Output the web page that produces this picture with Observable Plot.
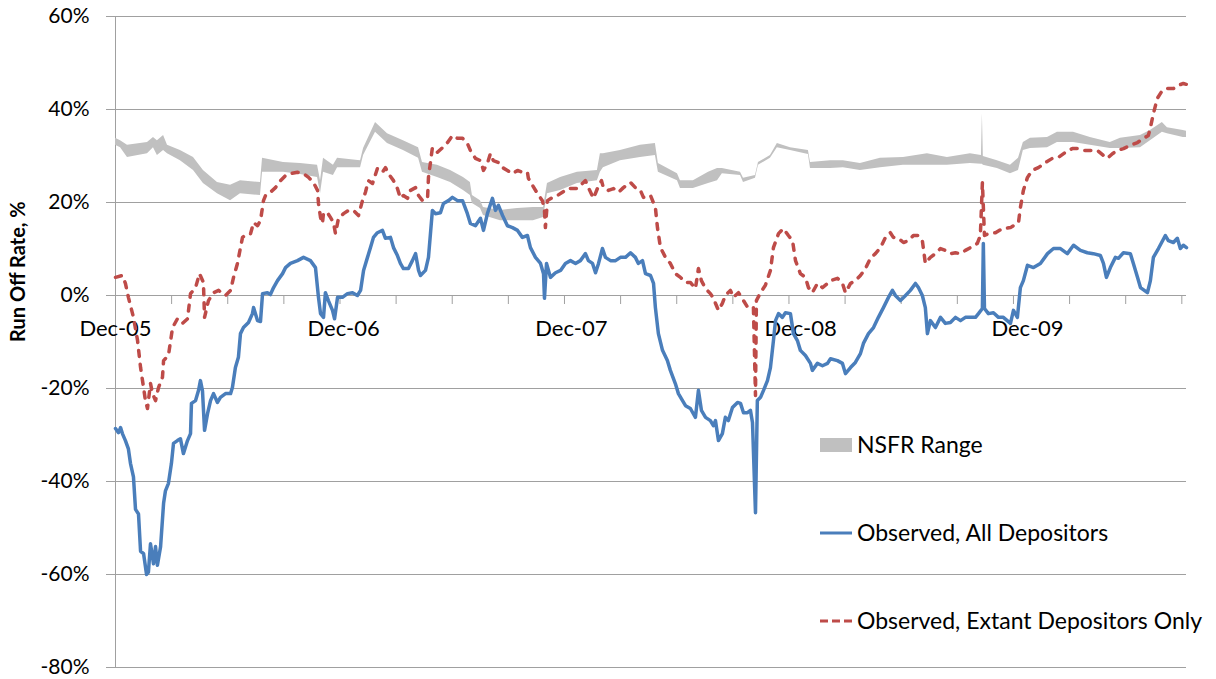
<!DOCTYPE html>
<html><head><meta charset="utf-8">
<script src="https://cdn.jsdelivr.net/npm/d3@7"></script>
<script src="https://cdn.jsdelivr.net/npm/@observablehq/plot@0.6"></script>
<style>
html,body{margin:0;padding:0;background:#fff;}
#chart{width:1216px;height:679px;}
</style></head><body><div id="chart"></div>
<script>
// x values: months since Dec-05; y values: run-off rate in %
const allDepositors = [[0.00,-28.6],[0.16,-29.5],[0.27,-28.4],[0.37,-29.7],[0.53,-31.2],[0.69,-33],[0.80,-36.1],[0.96,-39],[1.07,-46],[1.23,-47],[1.34,-55],[1.50,-55.5],[1.66,-60],[1.76,-59.5],[1.87,-53.4],[2.03,-57.7],[2.14,-54],[2.24,-58],[2.41,-54],[2.57,-44.7],[2.67,-42],[2.83,-40.4],[2.99,-36.1],[3.10,-31.8],[3.31,-31.2],[3.47,-30.8],[3.63,-34],[3.85,-31.2],[4.01,-29.7],[4.06,-23.2],[4.28,-22.6],[4.44,-20.4],[4.54,-18.3],[4.65,-20.5],[4.76,-29],[4.92,-25.4],[5.08,-22.6],[5.24,-21.1],[5.45,-23],[5.61,-21.9],[5.88,-21.1],[6.15,-21.1],[6.25,-19.8],[6.41,-15.5],[6.57,-13.3],[6.68,-8.2],[6.84,-6.9],[7.11,-5.8],[7.32,-3.9],[7.38,-2.6],[7.59,-5.4],[7.75,-5.6],[7.86,0.4],[8.12,0.6],[8.28,0.2],[8.45,1.7],[8.66,3.2],[8.93,4.7],[9.09,6],[9.35,6.9],[9.73,7.5],[10.05,8.2],[10.42,7.5],[10.69,6],[10.85,-0.4],[10.96,-3.9],[11.12,-4.7],[11.22,0.6],[11.38,-1.1],[11.60,-3.2],[11.71,-5],[11.87,-0.4],[12.13,-0.4],[12.40,0.4],[12.67,0.6],[12.93,0],[13.10,1.1],[13.26,5.4],[13.47,8.2],[13.63,10.3],[13.79,12.5],[14.00,13.5],[14.27,14],[14.43,12.3],[14.70,12.5],[14.86,10.3],[15.07,8.6],[15.23,6.9],[15.39,5.8],[15.66,5.8],[15.87,7.5],[16.04,9],[16.20,5.4],[16.30,4.3],[16.57,5.4],[16.73,8.2],[16.94,18.3],[17.10,17.6],[17.37,17.8],[17.53,19.8],[17.80,20.4],[18.01,21.1],[18.28,20.4],[18.55,20.4],[18.81,17.6],[18.97,15.5],[19.24,15],[19.51,16.6],[19.67,14],[19.88,17.6],[20.15,20.9],[20.31,18.3],[20.47,19.4],[20.69,17.2],[20.95,15],[21.22,14.6],[21.49,14],[21.75,12.5],[22.02,12.9],[22.18,10.3],[22.45,8.2],[22.72,6.9],[22.88,4.7],[22.93,-0.6],[23.04,6.9],[23.25,3.9],[23.52,4.9],[23.79,5.4],[24.05,6.9],[24.32,7.5],[24.59,6.9],[24.85,7.5],[25.12,9],[25.28,7.5],[25.50,6.9],[25.66,4.9],[25.82,6.9],[26.03,10.1],[26.19,8.2],[26.46,7.5],[26.73,7.5],[26.99,8.2],[27.26,8.2],[27.53,9.2],[27.79,8.2],[27.95,6.9],[28.17,7.5],[28.33,4.7],[28.60,4.3],[28.76,2.6],[28.86,-2.6],[29.02,-8.2],[29.24,-11.8],[29.50,-14],[29.66,-16.1],[29.93,-19],[30.09,-21.1],[30.31,-22.6],[30.47,-23.7],[30.73,-24.3],[31.00,-26.2],[31.16,-20.4],[31.32,-24.7],[31.54,-26.2],[31.80,-26.9],[31.96,-28],[32.07,-26.9],[32.23,-31.2],[32.44,-29.7],[32.60,-26.2],[32.76,-26.9],[32.98,-24.1],[33.25,-23],[33.41,-23.2],[33.57,-25.2],[33.78,-25.2],[33.94,-24.7],[34.05,-27.3],[34.21,-46.7],[34.31,-22.6],[34.48,-21.9],[34.64,-20.4],[34.85,-18.3],[35.01,-15.5],[35.17,-9.7],[35.28,-5.4],[35.44,-3.9],[35.65,-4.7],[35.81,-3.7],[36.08,-3.9],[36.24,-8.2],[36.45,-9.7],[36.61,-11.8],[36.88,-12.9],[37.15,-14.6],[37.25,-16.1],[37.52,-14.6],[37.79,-15.1],[38.06,-14.6],[38.22,-13.6],[38.59,-14],[38.86,-14.6],[39.02,-16.8],[39.29,-15.5],[39.55,-14.4],[39.82,-12.5],[39.98,-10.3],[40.25,-8.2],[40.52,-6.9],[40.78,-4.7],[41.05,-2.6],[41.32,-0.4],[41.53,1.1],[41.69,0],[41.96,-1.1],[42.23,0],[42.49,1.1],[42.76,2.6],[42.92,1.7],[43.13,0],[43.29,-2.6],[43.40,-8.2],[43.56,-5.4],[43.83,-6.9],[44.10,-4.7],[44.36,-6],[44.63,-5.8],[44.90,-4.7],[45.17,-5.4],[45.43,-4.7],[45.70,-4.7],[45.97,-4.7],[46.13,-3.9],[46.34,-2.8],[46.39,11.2],[46.45,-2.8],[46.66,-3.9],[46.93,-3.7],[47.20,-4.7],[47.46,-4.7],[47.84,-6],[48.00,-3.2],[48.21,-4.7],[48.37,1.7],[48.53,3.2],[48.75,6.5],[49.07,6],[49.44,6.9],[49.82,9],[50.14,10.1],[50.51,10.1],[50.88,9],[51.21,10.8],[51.58,9.7],[51.95,9.2],[52.27,9],[52.65,8.6],[52.81,6.9],[52.97,3.9],[53.18,6],[53.45,8.2],[53.61,8],[53.88,9.2],[54.25,9],[54.41,6.9],[54.63,3.9],[54.79,1.7],[55.16,0.6],[55.32,3.2],[55.48,8.2],[55.75,10.1],[56.12,12.9],[56.28,11.8],[56.55,11.4],[56.76,12.3],[56.92,10.1],[57.08,10.8],[57.25,10.3]];

const extantDepositors = [[0.00,3.9],[0.37,4.3],[0.53,2.6],[0.69,-0.4],[0.96,-4.7],[1.18,-9.7],[1.34,-15.5],[1.50,-19.8],[1.60,-22.6],[1.71,-24.3],[1.87,-18.9],[1.98,-21.1],[2.14,-22.6],[2.30,-19.8],[2.51,-17.6],[2.57,-14],[2.83,-12.9],[3.05,-6.9],[3.31,-5],[3.58,-6],[3.85,-5],[4.01,0.4],[4.28,1.7],[4.49,4.7],[4.70,2.8],[4.76,-4.7],[4.97,-1.1],[5.24,0.6],[5.51,1.1],[5.72,0.4],[5.88,0],[6.15,1.1],[6.31,3.9],[6.52,6.9],[6.68,10.3],[6.79,12.5],[7.06,13.3],[7.22,13.3],[7.38,15.7],[7.59,15],[7.75,16.1],[7.91,20.4],[8.02,21.5],[8.28,22.2],[8.55,23.2],[8.82,24.7],[9.09,25.8],[9.35,26.2],[9.73,26.5],[10.05,26.2],[10.32,25.4],[10.58,24.3],[10.80,22.6],[10.85,19.8],[10.96,16.8],[11.06,15.5],[11.12,17.8],[11.33,17.8],[11.49,16.8],[11.65,15.7],[11.76,13.3],[11.92,16.6],[12.19,17.6],[12.45,18.3],[12.72,18.3],[12.99,17.2],[13.20,20.4],[13.36,22.2],[13.52,24.7],[13.74,24.1],[14.00,27.3],[14.27,26.5],[14.43,27.5],[14.59,26.2],[14.86,24.7],[15.07,23],[15.23,20.9],[15.39,21.5],[15.61,20.9],[15.77,22.6],[16.04,23.2],[16.20,21.5],[16.41,20.4],[16.68,20.9],[16.73,25.4],[16.94,31.8],[17.21,30.8],[17.48,31.8],[17.75,32.9],[18.01,34.4],[18.28,33.8],[18.55,33.8],[18.81,32.7],[18.97,31.2],[19.24,29.5],[19.51,29],[19.67,26.9],[19.88,28.4],[20.04,30.5],[20.20,29],[20.47,28.6],[20.69,27.5],[20.95,26.9],[21.22,26.2],[21.49,26.9],[21.75,26.5],[22.02,26.5],[22.07,25.2],[22.29,23.7],[22.56,21.9],[22.82,20.4],[22.93,18.3],[22.98,14.6],[23.09,20.4],[23.36,21.1],[23.62,21.5],[23.89,22.2],[24.16,23],[24.43,23],[24.69,23],[24.96,24.1],[25.12,24.7],[25.28,23.2],[25.55,20.9],[25.76,23],[25.98,24.7],[26.08,23.2],[26.35,22.6],[26.62,23],[26.89,22.2],[27.15,23.2],[27.53,24.3],[27.79,23.2],[28.06,22.6],[28.22,21.1],[28.60,21.5],[28.86,18.9],[28.97,14.6],[29.13,10.3],[29.40,8.2],[29.66,6.9],[29.93,4.7],[30.20,3.9],[30.47,2.8],[30.73,2.8],[31.00,1.5],[31.16,5.8],[31.32,3.2],[31.54,1.5],[31.80,0.4],[31.96,-0.6],[32.23,-3.2],[32.44,-1.7],[32.60,0],[32.87,1.1],[33.03,-0.4],[33.30,0.6],[33.57,-1.1],[33.83,-2.8],[34.10,-2.6],[34.21,-21.5],[34.26,-1.1],[34.48,0.6],[34.74,2.2],[35.01,5.4],[35.17,10.3],[35.44,13.3],[35.70,14.4],[35.97,12.9],[36.19,11.8],[36.35,7.5],[36.61,4.7],[36.88,3.9],[37.04,1.7],[37.25,0.6],[37.52,2.6],[37.79,1.7],[38.06,2.6],[38.22,3.2],[38.59,3.7],[38.86,2.6],[39.02,0.6],[39.29,2.6],[39.55,3.2],[39.82,4.3],[40.09,5.8],[40.35,8],[40.62,9],[40.89,10.3],[41.16,12.5],[41.42,13.5],[41.58,12.5],[41.85,12.3],[42.12,11.4],[42.39,11.8],[42.65,12.9],[42.92,12.9],[43.13,11.8],[43.29,6.9],[43.56,8.2],[43.83,9],[44.10,10.1],[44.36,9.7],[44.63,9],[44.90,9.2],[45.17,9],[45.43,9.7],[45.70,10.3],[46.07,11.2],[46.23,12.9],[46.34,24.3],[46.45,12.9],[46.66,13.3],[47.04,13.5],[47.41,14.4],[47.84,14.6],[48.27,15.7],[48.37,18.9],[48.53,22.6],[48.75,25.4],[49.01,26.9],[49.33,27.5],[49.71,28.6],[50.08,29.5],[50.40,29.7],[50.78,30.8],[51.15,31.6],[51.47,31.6],[51.74,31.2],[52.11,31.2],[52.49,31.2],[52.81,30.1],[53.02,29.5],[53.29,30.5],[53.56,31.2],[53.88,31.6],[54.25,32.3],[54.63,32.9],[54.95,33.8],[55.21,34.4],[55.32,36.1],[55.48,39.1],[55.69,42.4],[55.96,44.1],[56.23,44.5],[56.55,44.5],[56.82,45.2],[57.08,45.6],[57.25,45.4]];

// NSFR range: [month, low %, high %]
const nsfrRange = [[0.00,32.3,33.8],[0.27,31.8,33.3],[0.64,29.7,32.3],[1.71,30.5,32.9],[2.03,31.8,34.0],[2.24,30.1,33.3],[2.57,31.2,34.4],[2.78,30.5,32.3],[3.47,29.0,31.2],[4.17,26.9,29.7],[4.70,24.1,26.9],[5.45,21.9,24.3],[6.15,20.4,23.7],[6.68,21.9,24.7],[7.75,21.5,24.3],[7.86,26.5,29.5],[8.98,26.5,28.6],[9.89,26.0,28.4],[10.80,25.4,28.0],[10.96,21.9,24.7],[11.12,26.5,29.5],[11.65,25.8,28.0],[11.87,27.5,29.5],[13.10,27.5,29.0],[13.26,30.1,31.6],[13.90,35.1,37.2],[14.54,32.7,34.8],[15.39,31.2,33.3],[16.20,29.5,31.8],[16.41,26.5,28.6],[17.21,25.4,28.0],[17.91,24.3,26.9],[18.60,22.6,25.4],[18.97,21.5,24.3],[19.08,19.8,21.5],[19.51,18.7,20.4],[19.67,17.2,18.9],[20.58,16.1,18.3],[21.49,16.1,18.7],[22.34,16.1,18.9],[22.88,16.8,18.9],[23.09,21.9,24.1],[23.79,22.6,25.4],[24.69,24.1,26.5],[25.76,24.7,26.9],[25.92,26.5,30.5],[26.08,27.5,30.5],[26.99,29.0,31.2],[28.06,29.7,32.3],[28.86,30.1,32.7],[29.02,26.5,28.4],[30.04,24.7,26.2],[30.20,23.0,24.7],[30.89,23.0,24.7],[31.70,24.1,26.5],[32.18,24.7,27.3],[32.44,26.2,27.3],[33.41,25.8,26.5],[33.57,24.3,25.2],[34.21,25.2,25.8],[34.37,28.0,28.6],[35.01,29.5,30.1],[35.38,31.8,32.7],[36.08,31.2,31.8],[37.04,30.3,31.2],[37.15,27.3,28.6],[38.22,27.3,29.0],[38.91,27.5,29.0],[39.82,26.9,28.4],[40.89,27.5,29.5],[42.12,28.0,29.7],[43.40,28.0,30.5],[44.47,28.0,29.7],[45.70,28.4,30.5],[46.29,28.2,30.1],[46.34,28.2,39.1],[46.39,28.0,29.9],[47.14,27.3,29.0],[47.84,26.2,28.0],[48.27,26.9,29.5],[48.53,31.2,32.9],[48.91,31.6,33.8],[49.82,31.8,34.0],[50.35,32.9,35.1],[51.21,32.9,35.1],[52.11,32.3,34.0],[53.18,31.6,32.9],[53.72,31.6,33.8],[54.79,31.8,34.4],[55.32,33.3,35.5],[55.96,35.1,37.2],[56.23,34.8,36.1],[57.08,34.0,35.5],[57.25,34.0,35.3]];

const yTicks = [-80, -60, -40, -20, 0, 20, 40, 60];
const quarterTicks = [0,3,6,9,12,15,18,21,24,27,30,33,36,39,42,45,48,51,54,57];
const xLabels = ["Dec-05", "Dec-06", "Dec-07", "Dec-08", "Dec-09"];
const xLabelMonths = [0, 12.19, 24.37, 36.62, 48.75];
const seriesNames = ["NSFR Range", "Observed, All Depositors", "Observed, Extant Depositors Only"];

const FONT = "Lato, 'Open Sans', sans-serif";
const GRID = "#a0a0a0";
const BLUE = "#4a7ebb";
const RED = "#be4b48";
const BAND = "#c0c0c0";

const svg = Plot.plot({
  width: 1216, height: 679,
  marginLeft: 115, marginRight: 30, marginTop: 16, marginBottom: 12,
  style: {fontFamily: FONT, fontSize: "21px", color: "#000", background: "#fff"},
  x: {domain: [0, 57.25], axis: null},
  y: {domain: [-80, 60], axis: null},
  marks: [
    Plot.gridY(yTicks, {stroke: GRID, strokeOpacity: 1, strokeWidth: 1}),
    Plot.axisY(yTicks, {tickSize: 9, tickPadding: 17, tickFormat: d => d + "%", stroke: GRID, strokeOpacity: 1, fill: "#000", fontSize: 21, label: null}),
    Plot.ruleX([0], {stroke: GRID}),
    Plot.ruleX(quarterTicks, {x: d => d, y1: 0, y2: 0, insetBottom: -9, stroke: GRID}),
    Plot.text(xLabelMonths, {x: d => d, y: 0, text: (d, i) => xLabels[i], dy: 33, fill: "#000", fontSize: 22}),
    Plot.text([ "Run Off Rate, %" ], {frameAnchor: "left", rotate: -90, dx: -97, fontWeight: "bold", fontSize: 20, fill: "#000"}),
    Plot.areaY(nsfrRange, {x: d => d[0], y1: d => d[1], y2: d => d[2], fill: BAND}),
    Plot.lineY(allDepositors, {x: d => d[0], y: d => d[1], stroke: BLUE, strokeWidth: 3.5, strokeLinejoin: "round"}),
    Plot.lineY(extantDepositors, {x: d => d[0], y: d => d[1], stroke: RED, strokeWidth: 3.5, strokeDasharray: "6,8", strokeLinecap: "round", strokeLinejoin: "round"})
  ]
});

// legend inside the plot area
const g = d3.select(svg).append("g").attr("font-family", FONT).attr("font-size", 23).attr("text-anchor", "start").attr("fill", "#000");
g.append("rect").attr("x", 820).attr("y", 438).attr("width", 32).attr("height", 14).attr("fill", BAND);
g.append("text").attr("x", 857).attr("y", 445).attr("dy", "0.35em").text(seriesNames[0]);
g.append("line").attr("x1", 820).attr("x2", 852).attr("y1", 533).attr("y2", 533).attr("stroke", BLUE).attr("stroke-width", 3);
g.append("text").attr("x", 857).attr("y", 533).attr("dy", "0.35em").text(seriesNames[1]);
g.append("line").attr("x1", 820).attr("x2", 852).attr("y1", 621).attr("y2", 621).attr("stroke", RED).attr("stroke-width", 3).attr("stroke-dasharray", "8,4");
g.append("text").attr("x", 857).attr("y", 621).attr("dy", "0.35em").text(seriesNames[2]);

document.getElementById("chart").appendChild(svg);
</script>
</body></html>
